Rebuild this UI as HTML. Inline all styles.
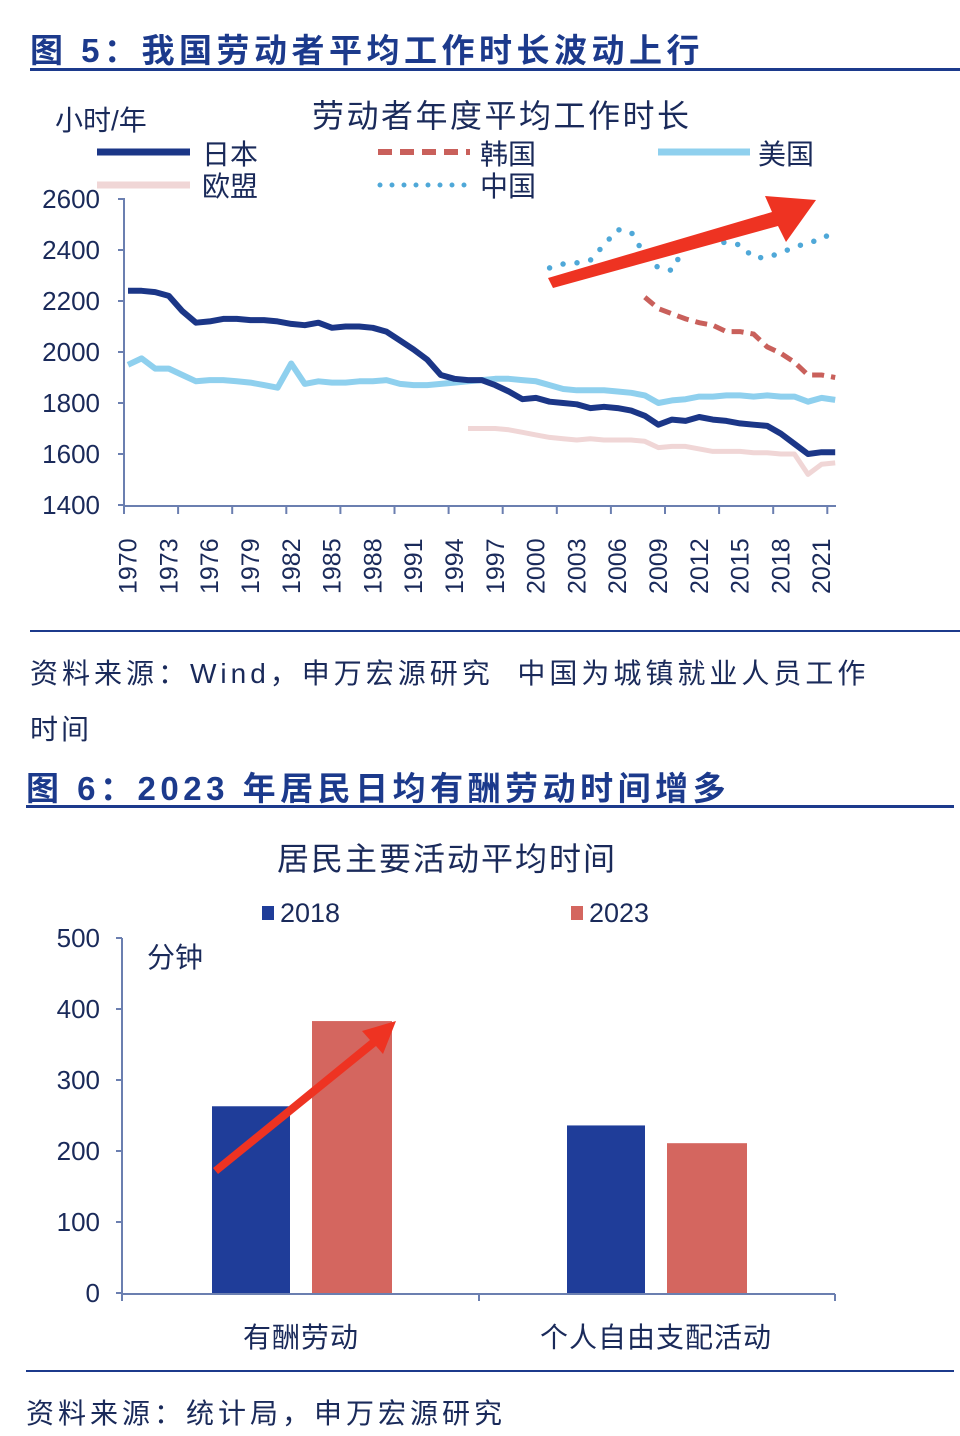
<!DOCTYPE html>
<html><head><meta charset="utf-8">
<style>
html,body{margin:0;padding:0;background:#fff;}
body{width:960px;height:1436px;position:relative;overflow:hidden;font-family:"Liberation Sans","Noto Sans CJK SC",sans-serif;}
.t{position:absolute;white-space:nowrap;}
</style></head>
<body>
<div class="t" style="left:30px;top:24px;font-size:33px;font-weight:bold;color:#1c3a8c;letter-spacing:4.5px;">图 5：我国劳动者平均工作时长波动上行</div>
<div style="position:absolute;left:30px;top:68px;width:930px;height:3px;background:#1c3a8c;"></div>

<svg id="c1" style="position:absolute;left:0;top:80px;" width="960" height="540" viewBox="0 80 960 540"></svg>

<div style="position:absolute;left:30px;top:630px;width:930px;height:2px;background:#1c3a8c;"></div>
<div class="t" style="left:30px;top:652px;font-size:28px;color:#1a2a5a;letter-spacing:4px;">资料来源：Wind，申万宏源研究&nbsp; 中国为城镇就业人员工作</div>
<div class="t" style="left:30px;top:708px;font-size:28px;color:#1a2a5a;letter-spacing:3px;">时间</div>

<div class="t" style="left:26px;top:762px;font-size:33px;font-weight:bold;color:#1c3a8c;letter-spacing:4.5px;">图 6：2023 年居民日均有酬劳动时间增多</div>
<div style="position:absolute;left:26px;top:805px;width:928px;height:3px;background:#1c3a8c;"></div>

<svg id="c2" style="position:absolute;left:0;top:820px;" width="960" height="550" viewBox="0 820 960 550"></svg>

<div style="position:absolute;left:26px;top:1370px;width:928px;height:2px;background:#1c3a8c;"></div>
<div class="t" style="left:26px;top:1392px;font-size:28px;color:#1a2a5a;letter-spacing:4px;">资料来源：统计局，申万宏源研究</div>

<script>
const years = [];
for (let y = 1970; y <= 2022; y++) years.push(y);
const japan = [2240,2240,2235,2220,2160,2115,2120,2130,2130,2125,2125,2120,2110,2105,2115,2095,2100,2100,2095,2080,2045,2010,1970,1910,1895,1890,1890,1870,1845,1815,1820,1805,1800,1795,1780,1785,1780,1770,1750,1715,1735,1730,1745,1735,1730,1720,1715,1710,1680,1640,1600,1607,1607];
const usa = [1950,1975,1935,1935,1910,1885,1890,1890,1885,1880,1870,1860,1955,1875,1885,1880,1880,1885,1885,1890,1875,1870,1870,1875,1880,1885,1890,1895,1895,1890,1885,1870,1855,1850,1850,1850,1845,1840,1830,1800,1810,1815,1825,1825,1830,1830,1825,1830,1825,1825,1805,1820,1812];
const euYears = [1995,1996,1997,1998,1999,2000,2001,2002,2003,2004,2005,2006,2007,2008,2009,2010,2011,2012,2013,2014,2015,2016,2017,2018,2019,2020,2021,2022];
const eu = [1700,1700,1700,1695,1685,1675,1665,1660,1655,1660,1655,1655,1655,1650,1625,1630,1630,1620,1610,1610,1610,1605,1605,1600,1600,1520,1560,1565];
const koreaYears = [2008,2009,2010,2011,2012,2013,2014,2015,2016,2017,2018,2019,2020,2021,2022];
const korea = [2215,2170,2150,2130,2115,2105,2080,2080,2070,2020,1995,1960,1910,1910,1900];
const chinaYears = [2001,2002,2003,2004,2005,2006,2007,2008,2009,2010,2011,2012,2013,2014,2015,2016,2017,2018,2019,2020,2021,2022];
const china = [2330,2345,2350,2360,2420,2480,2470,2380,2330,2320,2420,2440,2430,2430,2420,2370,2370,2390,2410,2430,2440,2480];
const yTicks = [1400,1600,1800,2000,2200,2400,2600];
const xLabels = [1970,1973,1976,1979,1982,1985,1988,1991,1994,1997,2000,2003,2006,2009,2012,2015,2018,2021];

const NS = "http://www.w3.org/2000/svg";
function mk(svg, tag, attrs, name, text){
  const e = document.createElementNS(NS, tag);
  for (const k in attrs) e.setAttribute(k, attrs[k]);
  
  
  if (text !== undefined) e.textContent = text;
  svg.appendChild(e); return e;
}
const FONT = '"Liberation Sans","Noto Sans CJK SC",sans-serif';
const INK = '#1a2a5a';

// Chart 1
const s1 = document.getElementById('c1');
const X1 = yr => 128 + (yr - 1970) * 13.6;
const Y1 = v => 505 - (v - 1400) / 1200 * 306;
mk(s1,'text',{x:55,y:130,'font-size':28,fill:INK,'font-family':FONT},'y-axis-unit','小时/年');
mk(s1,'text',{x:312,y:127,'font-size':32,fill:INK,'font-family':FONT,'letter-spacing':2.5},'chart-title','劳动者年度平均工作时长');
// legend
mk(s1,'line',{x1:97,y1:152,x2:190,y2:152,stroke:'#1b3687','stroke-width':7},'legend-japan-line');
mk(s1,'text',{x:202,y:164,'font-size':28,fill:INK,'font-family':FONT},'legend-japan','日本');
mk(s1,'line',{x1:378,y1:152,x2:470,y2:152,stroke:'#c9605b','stroke-width':6,'stroke-dasharray':'14 8'},'legend-korea-line');
mk(s1,'text',{x:480,y:164,'font-size':28,fill:INK,'font-family':FONT},'legend-korea','韩国');
mk(s1,'line',{x1:658,y1:152,x2:750,y2:152,stroke:'#8fd0ee','stroke-width':7},'legend-usa-line');
mk(s1,'text',{x:758,y:164,'font-size':28,fill:INK,'font-family':FONT},'legend-usa','美国');
mk(s1,'line',{x1:97,y1:185,x2:190,y2:185,stroke:'#f0d6d6','stroke-width':7},'legend-eu-line');
mk(s1,'text',{x:202,y:196,'font-size':28,fill:INK,'font-family':FONT},'legend-eu','欧盟');
mk(s1,'line',{x1:380,y1:185,x2:470,y2:185,stroke:'#4fa8d8','stroke-width':5,'stroke-dasharray':'0 12','stroke-linecap':'round'},'legend-china-line');
mk(s1,'text',{x:480,y:196,'font-size':28,fill:INK,'font-family':FONT},'legend-china','中国');
// axes
mk(s1,'line',{x1:124,y1:198,x2:124,y2:506,stroke:'#6b7fb0','stroke-width':2},'y-axis');
mk(s1,'line',{x1:124,y1:506,x2:836,y2:506,stroke:'#6b7fb0','stroke-width':2},'x-axis');
yTicks.forEach(v=>{
  mk(s1,'line',{x1:118,y1:Y1(v),x2:124,y2:Y1(v),stroke:'#6b7fb0','stroke-width':2},'y-tick');
  mk(s1,'text',{x:100,y:Y1(v)+9,'font-size':26,fill:INK,'text-anchor':'end','font-family':FONT},'y-tick-label',String(v));
});
for (let i=0;i<14;i++){
  const x = 124 + i*54.1;
  mk(s1,'line',{x1:x,y1:506,x2:x,y2:514,stroke:'#6b7fb0','stroke-width':2},'x-tick');
}
xLabels.forEach(yr=>{
  const x = X1(yr)+2, y = 594;
  mk(s1,'text',{x:x,y:y,'font-size':25,fill:INK,'font-family':FONT,transform:`rotate(-90 ${x} ${y})`,'dominant-baseline':'middle'},'x-tick-label',String(yr));
});
function path(xs, vs){ return xs.map((yr,i)=>(i?'L':'M')+X1(yr).toFixed(1)+','+Y1(vs[i]).toFixed(1)).join(''); }
mk(s1,'path',{d:path(euYears,eu),fill:'none',stroke:'#f0d6d6','stroke-width':5,'stroke-linejoin':'round'},'series-eu');
mk(s1,'path',{d:path(years,usa),fill:'none',stroke:'#8fd0ee','stroke-width':6,'stroke-linejoin':'round'},'series-usa');
mk(s1,'path',{d:path(years,japan),fill:'none',stroke:'#1b3687','stroke-width':6,'stroke-linejoin':'round'},'series-japan');
mk(s1,'path',{d:path(koreaYears,korea),fill:'none',stroke:'#c9605b','stroke-width':5,'stroke-dasharray':'12 7'},'series-korea');
mk(s1,'path',{d:path(chinaYears,china),fill:'none',stroke:'#4fa8d8','stroke-width':5.5,'stroke-dasharray':'0 14','stroke-linecap':'round'},'series-china');
// red arrow annotation
mk(s1,'polygon',{points:'548,278 772,212 765,196 816,200 786,242 778,226 553,288',fill:'#ee3322'},'annotation-arrow-1');

// Chart 2
const s2 = document.getElementById('c2');
const cats = ['有酬劳动','个人自由支配活动'];
const v2018 = [263,236];
const v2023 = [383,211];
const y2Ticks = [0,100,200,300,400,500];
const Y2 = v => 1293 - v * 0.71;
const catX = [301, 656];
mk(s2,'text',{x:447,y:870,'font-size':32,fill:INK,'text-anchor':'middle','font-family':FONT,'letter-spacing':2},'chart-title','居民主要活动平均时间');
mk(s2,'rect',{x:262,y:906,width:12,height:14,fill:'#1f3d99'},'legend-2018-swatch');
mk(s2,'text',{x:280,y:922,'font-size':27,fill:INK,'font-family':FONT},'legend-2018','2018');
mk(s2,'rect',{x:571,y:906,width:12,height:14,fill:'#d4665f'},'legend-2023-swatch');
mk(s2,'text',{x:589,y:922,'font-size':27,fill:INK,'font-family':FONT},'legend-2023','2023');
mk(s2,'text',{x:147,y:967,'font-size':28,fill:INK,'font-family':FONT},'y-axis-unit','分钟');
mk(s2,'line',{x1:122,y1:938,x2:122,y2:1294,stroke:'#6b7fb0','stroke-width':2},'y-axis');
mk(s2,'line',{x1:122,y1:1294,x2:835,y2:1294,stroke:'#6b7fb0','stroke-width':2},'x-axis');
y2Ticks.forEach(v=>{
  mk(s2,'line',{x1:116,y1:Y2(v),x2:122,y2:Y2(v),stroke:'#6b7fb0','stroke-width':2},'y-tick');
  mk(s2,'text',{x:100,y:Y2(v)+9,'font-size':26,fill:INK,'text-anchor':'end','font-family':FONT},'y-tick-label',String(v));
});
[122,479,835].forEach(x=>mk(s2,'line',{x1:x,y1:1294,x2:x,y2:1301,stroke:'#6b7fb0','stroke-width':2},'x-tick'));
cats.forEach((c,i)=>{
  const cx = catX[i];
  mk(s2,'rect',{x:cx-89,y:Y2(v2018[i]),width:78,height:1293-Y2(v2018[i]),fill:'#1f3d99'},'bar-2018');
  mk(s2,'rect',{x:cx+11,y:Y2(v2023[i]),width:80,height:1293-Y2(v2023[i]),fill:'#d4665f'},'bar-2023');
  mk(s2,'text',{x:cx,y:1347,'font-size':28,fill:INK,'text-anchor':'middle','font-family':FONT,'letter-spacing':1},'x-category-label',c);
});
mk(s2,'polygon',{points:'213,1168 370,1040 362,1031 396,1021 383,1054 376,1046 218,1174',fill:'#ee3322'},'annotation-arrow-2');
</script>
</body></html>
